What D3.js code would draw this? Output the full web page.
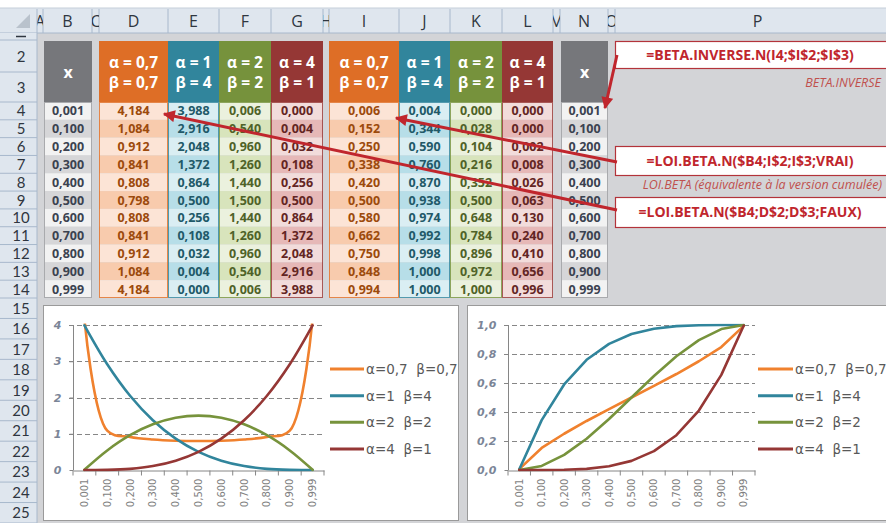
<!DOCTYPE html>
<html><head><meta charset="utf-8">
<script src="https://cdn.jsdelivr.net/npm/d3@7/dist/d3.min.js"></script>
<style>body{margin:0;background:#fff;overflow:hidden}svg{display:block}</style>
</head><body><svg id="c" width="886" height="523"></svg>
<script>
// ---------------- DATA ----------------
const xLabels = ["0,001","0,100","0,200","0,300","0,400","0,500","0,600","0,700","0,800","0,900","0,999"];
const headerAlpha = ["α = 0,7","α = 1","α = 2","α = 4"];
const headerBeta  = ["β = 0,7","β = 4","β = 2","β = 1"];
const seriesLabels = ["α=0,7  β=0,7","α=1  β=4","α=2  β=2","α=4  β=1"];
const pdfA07B07 = [4.184,1.084,0.912,0.841,0.808,0.798,0.808,0.841,0.912,1.084,4.184];
const pdfA1B4   = [3.988,2.916,2.048,1.372,0.864,0.500,0.256,0.108,0.032,0.004,0.000];
const pdfA2B2   = [0.006,0.540,0.960,1.260,1.440,1.500,1.440,1.260,0.960,0.540,0.006];
const pdfA4B1   = [0.000,0.004,0.032,0.108,0.256,0.500,0.864,1.372,2.048,2.916,3.988];
const cdfA07B07 = [0.006,0.152,0.250,0.338,0.420,0.500,0.580,0.662,0.750,0.848,0.994];
const cdfA1B4   = [0.004,0.344,0.590,0.760,0.870,0.938,0.974,0.992,0.998,1.000,1.000];
const cdfA2B2   = [0.000,0.028,0.104,0.216,0.352,0.500,0.648,0.784,0.896,0.972,1.000];
const cdfA4B1   = [0.000,0.000,0.002,0.008,0.026,0.063,0.130,0.240,0.410,0.656,0.996];
const pdfTicks = [0,1,2,3,4];
const pdfTickLabels = ["0","1","2","3","4"];
const cdfTicks = [0,0.2,0.4,0.6,0.8,1.0];
const cdfTickLabels = ["0,0","0,2","0,4","0,6","0,8","1,0"];
const colLetters = ["A","B","C","D","E","F","G","H","I","J","K","L","M","N","O","P"];
const rowNumbers = d3.range(1,26);
const formulaInverse = "=BETA.INVERSE.N(I4;$I$2;$I$3)";
const formulaCdf = "=LOI.BETA.N($B4;I$2;I$3;VRAI)";
const formulaPdf = "=LOI.BETA.N($B4;D$2;D$3;FAUX)";
const noteInverse = "BETA.INVERSE";
const noteCdf = "LOI.BETA (équivalente à la version cumulée)";

// ---------------- STYLE / LAYOUT ----------------
const colEdges = [37,43,92,99,168,219,271,323,329,399,450,502,553,560,608,615,900];
const headerCol = ["#de6e26","#31859c","#76923c","#953735"];
const lineCol = ["#f0812e","#31859c","#77933c","#953735"];
const lightFill = ["#fce4d6","#daeef3","#ebf1de","#f2dcdb"];
const darkFill = ["#f8cbad","#b7dee8","#d8e4bc","#e6b8b7"];
const textCol = ["#9c4a0c","#215968","#4f6228","#632523"];
const calibri = "'Open Sans', 'Noto Sans', sans-serif";
const rowFont = "Lato, 'Open Sans', sans-serif";
const tahoma = "'DejaVu Sans', Verdana, sans-serif";
const red = "#c0262d";

const svg = d3.select("#c");
const defs = svg.append("defs");

const colX = d3.scaleOrdinal(colLetters, colEdges.slice(0,16));
const colW = l => colEdges[colLetters.indexOf(l)+1] - colEdges[colLetters.indexOf(l)];
const dataRow = d3.scaleBand().domain(d3.range(4,15)).range([102,298]);
const lowRow = d3.scaleBand().domain(d3.range(15,26)).range([298,523]);
const topRows = d3.scaleOrdinal([1,2,3],[33,40,72]);
const topRowsH = d3.scaleOrdinal([1,2,3],[7,32,30]);
const rowY = r => r<=3 ? topRows(r) : (r<=14 ? dataRow(r) : lowRow(r));
const rowH = r => r<=3 ? topRowsH(r) : (r<=14 ? dataRow.bandwidth() : lowRow.bandwidth());

svg.append("rect").attr("width",886).attr("height",523).attr("fill","#fff");
svg.append("rect").attr("x",37).attr("y",33).attr("width",849).attr("height",490).attr("fill","#d3d4d7");

// ---- column header row
const hdrBg = "#dfe6ee", hdrLine = "#a8b8cc";
svg.append("rect").attr("x",0).attr("y",8).attr("width",886).attr("height",25).attr("fill",hdrBg);
svg.append("line").attr("x1",0).attr("x2",886).attr("y1",8).attr("y2",8).attr("stroke","#c5ced9");
svg.append("line").attr("x1",0).attr("x2",886).attr("y1",33).attr("y2",33).attr("stroke",hdrLine);
colLetters.forEach(l=>{
  const x = colX(l), w = colW(l);
  const id = "cc"+l;
  defs.append("clipPath").attr("id",id).append("rect").attr("x",x).attr("y",8).attr("width",w).attr("height",25);
  svg.append("line").attr("x1",x+w).attr("x2",x+w).attr("y1",9).attr("y2",33).attr("stroke",hdrLine);
  svg.append("text").attr("clip-path",`url(#${id})`).attr("x",x+w/2).attr("y",27)
    .attr("text-anchor","middle").attr("font-family",calibri).attr("font-size",16).attr("fill","#2f3640").text(l);
});
svg.append("line").attr("x1",37).attr("x2",37).attr("y1",9).attr("y2",33).attr("stroke",hdrLine);
svg.append("path").attr("d","M30,28 L30,14 L16,28 Z").attr("fill","#b9c2cc");

// ---- row headers
svg.append("rect").attr("x",0).attr("y",33).attr("width",37).attr("height",490).attr("fill",hdrBg);
svg.append("line").attr("x1",37).attr("x2",37).attr("y1",33).attr("y2",523).attr("stroke",hdrLine);
rowNumbers.forEach(r=>{
  const y = rowY(r), h = rowH(r);
  svg.append("line").attr("x1",0).attr("x2",37).attr("y1",y+h).attr("y2",y+h).attr("stroke",hdrLine);
  if (r===1) {
    svg.append("line").attr("x1",16).attr("x2",26).attr("y1",36.5).attr("y2",36.5).attr("stroke","#2f3640").attr("stroke-width",1.5);
  } else {
    svg.append("text").attr("x",21).attr("y",y+h/2+5.5)
      .attr("text-anchor","middle").attr("font-family",rowFont).attr("font-size",15).attr("fill","#2f3640").text(r);
  }
});

// ---- tables
function xColumn(col){
  const x = colX(col)+1, w = colW(col)-1;
  svg.append("rect").attr("x",x).attr("y",41).attr("width",w).attr("height",61).attr("fill","#76777b");
  svg.append("text").attr("x",x+w/2).attr("y",78).attr("text-anchor","middle").attr("font-family",calibri)
    .attr("font-weight","bold").attr("font-size",16).attr("fill","#fff").text("x");
  xLabels.forEach((v,i)=>{
    const r = i+4;
    svg.append("rect").attr("x",x).attr("y",dataRow(r)).attr("width",w).attr("height",dataRow.bandwidth())
      .attr("fill", i%2 ? "#d6d6d8" : "#f2f2f2");
    svg.append("text").attr("x",x+w/2).attr("y",dataRow(r)+dataRow.bandwidth()/2+4.5).attr("text-anchor","middle")
      .attr("font-family",calibri).attr("font-weight","bold").attr("font-size",12.5).attr("fill","#3b4250").text(v);
  });
  svg.append("rect").attr("x",x+0.5).attr("y",102.5).attr("width",w-1).attr("height",196-1)
    .attr("fill","none").attr("stroke","#a9aaad");
}
function paramTable(cols, series){
  cols.forEach((col,k)=>{
    const x = colX(col), w = colW(col);
    svg.append("rect").attr("x",x).attr("y",41).attr("width",w).attr("height",61).attr("fill",headerCol[k]);
    svg.append("text").attr("x",x+w/2).attr("y",68).attr("text-anchor","middle").attr("font-family",calibri)
      .attr("font-weight","bold").attr("font-size",15.5).attr("fill","#fff").text(headerAlpha[k]);
    svg.append("text").attr("x",x+w/2).attr("y",88).attr("text-anchor","middle").attr("font-family",calibri)
      .attr("font-weight","bold").attr("font-size",15.5).attr("fill","#fff").text(headerBeta[k]);
    series[k].forEach((v,i)=>{
      const r = i+4;
      svg.append("rect").attr("x",x).attr("y",dataRow(r)).attr("width",w).attr("height",dataRow.bandwidth())
        .attr("fill", i%2 ? darkFill[k] : lightFill[k]);
      svg.append("text").attr("x",x+w/2).attr("y",dataRow(r)+dataRow.bandwidth()/2+4.5).attr("text-anchor","middle")
        .attr("font-family",calibri).attr("font-weight","bold").attr("font-size",12.5).attr("fill",textCol[k])
        .text(d3.format(".3f")(v).replace(".",","));
    });
    svg.append("rect").attr("x",x+0.5).attr("y",102.5).attr("width",w-1).attr("height",195)
      .attr("fill","none").attr("stroke",headerCol[k]).attr("stroke-opacity",0.8);
  });
}
xColumn("B");
paramTable(["D","E","F","G"],[pdfA07B07,pdfA1B4,pdfA2B2,pdfA4B1]);
paramTable(["I","J","K","L"],[cdfA07B07,cdfA1B4,cdfA2B2,cdfA4B1]);
xColumn("N");

// ---- charts
function chart(o){
  const cid = "clip"+o.id;
  defs.append("clipPath").attr("id",cid).append("rect").attr("x",o.box[0]).attr("y",o.box[1]).attr("width",o.box[2]).attr("height",o.box[3]);
  const g = svg.append("g");
  g.append("rect").attr("x",o.box[0]+0.5).attr("y",o.box[1]+0.5).attr("width",o.box[2]).attr("height",o.box[3])
    .attr("fill","#fff").attr("stroke","#9a9a9a");
  const gc = g.append("g").attr("clip-path",`url(#${cid})`);
  const x = d3.scaleBand().domain(xLabels).range([o.x0,o.x1]);
  const y = d3.scaleLinear().domain([0,o.ticks[o.ticks.length-1]]).range([o.yb,o.yt]);
  gc.selectAll(null).data(o.ticks.slice(1)).join("line")
    .attr("x1",o.x0-4).attr("x2",o.x1).attr("y1",d=>Math.round(y(d))+0.5).attr("y2",d=>Math.round(y(d))+0.5)
    .attr("stroke","#868686").attr("stroke-dasharray","5,3");
  const ya = gc.append("g").attr("transform",`translate(${o.x0+0.5},0)`)
    .call(d3.axisLeft(y).tickValues(o.ticks).tickFormat((d,i)=>o.tickLabels[i]).tickSize(4).tickPadding(8));
  ya.select(".domain").attr("stroke","#868686").attr("d",`M-0,${o.yt}V${o.yb}`);
  ya.selectAll(".tick line").attr("stroke","#868686");
  ya.selectAll("text").attr("font-family",tahoma).attr("font-size",11).attr("font-weight","bold")
    .attr("font-style","italic").attr("fill","#7b8597");
  const xa = gc.append("g").attr("transform",`translate(0,${o.yb+0.5})`)
    .call(d3.axisBottom(x).tickSize(0).tickPadding(0));
  xa.select(".domain").attr("stroke","#868686");
  xa.selectAll(".tick text").attr("font-family",tahoma).attr("font-size",10).attr("fill","#7f7f7f")
    .attr("text-anchor","end").attr("transform","rotate(-90)")
    .attr("x",-8).attr("y",0).attr("dy","0.35em");
  xa.selectAll(".tick line").remove();
  xa.selectAll(null).data(xLabels.concat(["_end"])).join("line")
    .attr("x1",d=>d==="_end"?o.x1:x(d)).attr("x2",d=>d==="_end"?o.x1:x(d))
    .attr("y1",0).attr("y2",5).attr("stroke","#868686");
  const line = d3.line().x((d,i)=>x(xLabels[i])+x.bandwidth()/2).y(d=>y(d)).curve(o.curve);
  defs.append("clipPath").attr("id",cid+"p").append("rect").attr("x",o.x0-10).attr("y",o.yt-1.5).attr("width",o.x1-o.x0+20).attr("height",o.yb-o.yt+3);
  const gl = gc.append("g").attr("clip-path",`url(#${cid}p)`);
  o.series.forEach((s,k)=>{
    gl.append("path").attr("d",line(s)).attr("fill","none").attr("stroke",lineCol[k]).attr("stroke-width",2.6)
      .attr("stroke-linejoin","round").attr("stroke-linecap","round");
  });
  const ly = d3.scalePoint().domain(seriesLabels).range([369,449]);
  seriesLabels.forEach((lab,k)=>{
    gc.append("line").attr("x1",o.lx0).attr("x2",o.lx1).attr("y1",ly(lab)).attr("y2",ly(lab))
      .attr("stroke",lineCol[k]).attr("stroke-width",3);
    gc.append("text").attr("x",o.lx1+2).attr("y",ly(lab)+5).attr("font-family",tahoma).attr("font-size",13.5)
      .attr("fill","#595959").attr("xml:space","preserve").text(lab);
  });
}
chart({id:"pdf", box:[43,305,415,215], x0:73, x1:324, yt:325, yb:470, ticks:pdfTicks, tickLabels:pdfTickLabels,
  series:[pdfA07B07,pdfA1B4,pdfA2B2,pdfA4B1], curve:d3.curveCatmullRom.alpha(0.5), lx0:330, lx1:364});
chart({id:"cdf", box:[467,305,425,215], x0:508, x1:755, yt:325, yb:470, ticks:cdfTicks, tickLabels:cdfTickLabels,
  series:[cdfA07B07,cdfA1B4,cdfA2B2,cdfA4B1], curve:d3.curveLinear, lx0:758, lx1:793});

// ---- callouts
function callout(y, h, txt){
  svg.append("rect").attr("x",615.5).attr("y",y+0.5).attr("width",300).attr("height",h)
    .attr("fill","#fff").attr("stroke","#b3333a").attr("stroke-width",1.2);
  svg.append("text").attr("x",750).attr("y",y+h/2+5).attr("text-anchor","middle").attr("font-family",calibri)
    .attr("font-weight","bold").attr("font-size",14).attr("fill","#c0262d").text(txt);
}
callout(41,27,formulaInverse);
callout(146,29,formulaCdf);
callout(197,30,formulaPdf);
svg.append("text").attr("x",881).attr("y",87).attr("text-anchor","end").attr("font-family",calibri)
  .attr("font-style","italic").attr("font-size",12.5).attr("fill","#c0504d").text(noteInverse);
svg.append("text").attr("x",882).attr("y",189).attr("text-anchor","end").attr("font-family",calibri)
  .attr("font-style","italic").attr("font-size",12.5).attr("fill","#c0504d").text(noteCdf);

// ---- arrows
defs.append("marker").attr("id","ah").attr("viewBox","0 0 10 10").attr("refX",9).attr("refY",5)
  .attr("markerWidth",4.5).attr("markerHeight",4).attr("orient","auto").attr("markerUnits","strokeWidth")
  .append("path").attr("d","M0,0 L10,5 L0,10 Z").attr("fill",red);
const arrows = [[617,55,605,108],[617,162,396,118],[617,210,164,114]];
arrows.forEach(a=>{
  svg.append("line").attr("x1",a[0]).attr("y1",a[1]).attr("x2",a[2]).attr("y2",a[3])
    .attr("stroke",red).attr("stroke-width",3).attr("marker-end","url(#ah)");
});
</script></body></html>
